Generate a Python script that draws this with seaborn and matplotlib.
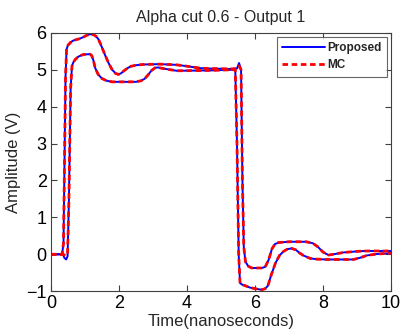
import matplotlib
matplotlib.use("Agg")
import matplotlib.pyplot as plt
import seaborn as sns
from matplotlib.lines import Line2D

# ---- data ----
t_up = [0, 0.33, 0.37, 0.40, 0.43, 0.46, 0.50, 0.58, 0.66, 0.85, 0.95, 1.05, 1.15, 1.25,
        1.33, 1.40, 1.48, 1.59, 1.70, 1.80, 1.90, 1.98, 2.06, 2.15, 2.25, 2.35, 2.5, 2.7,
        3.2, 3.7, 3.95, 4.1, 4.4, 4.68, 5.3, 5.47, 5.53, 5.59, 5.63, 5.67, 5.72, 5.8, 5.9,
        6.2, 6.3, 6.4, 6.5, 6.59, 6.7, 7.0, 7.5, 7.7, 7.85, 8.0, 8.16, 8.3, 8.6, 9.0, 9.2, 10]
prop_up = [0, 0, 0.3, 2.5, 4.8, 5.55, 5.66, 5.74, 5.79, 5.84, 5.88, 5.93, 5.96, 5.95,
           5.9, 5.82, 5.65, 5.4, 5.17, 5.0, 4.9, 4.87, 4.9, 4.97, 5.04, 5.09, 5.12, 5.14,
           5.15, 5.13, 5.1, 5.08, 5.04, 5.03, 5.02, 5.03, 5.18, 5.0, 2.0, 0.2, -0.2, -0.32, -0.37,
           -0.37, -0.34, -0.15, 0.15, 0.28, 0.32, 0.34, 0.34, 0.3, 0.2, 0.06, -0.02, 0.0, 0.05, 0.08, 0.09, 0.09]
mc_up = [0, 0, 0.3, 2.5, 4.8, 5.55, 5.66, 5.74, 5.79, 5.84, 5.88, 5.93, 5.95, 5.95,
         5.9, 5.82, 5.65, 5.4, 5.17, 5.0, 4.9, 4.87, 4.9, 4.97, 5.04, 5.09, 5.12, 5.14,
         5.15, 5.13, 5.1, 5.08, 5.04, 5.03, 5.02, 5.03, 5.1, 5.0, 2.0, 0.2, -0.2, -0.32, -0.37,
         -0.37, -0.34, -0.15, 0.15, 0.28, 0.32, 0.34, 0.34, 0.3, 0.2, 0.06, -0.02, 0.0, 0.05, 0.08, 0.09, 0.09]

t_lo = [0, 0.35, 0.40, 0.45, 0.49, 0.53, 0.58, 0.62, 0.66, 0.72, 0.8, 0.95, 1.15, 1.2, 1.25,
        1.3, 1.39, 1.5, 1.64, 1.8, 2.5, 2.65, 2.75, 2.85, 2.95, 3.06, 3.15, 3.3, 3.5, 3.7,
        4.7, 5.42, 5.47, 5.52, 5.56, 5.62, 5.71, 5.85, 6.0, 6.2, 6.3, 6.38, 6.48, 6.6, 6.72,
        6.84, 6.95, 7.08, 7.2, 7.32, 7.42, 7.62, 7.8, 8.1, 8.9, 9.1, 9.29, 9.6, 10]
prop_lo = [0, 0, -0.1, -0.14, -0.05, 1.5, 4.5, 5.1, 5.2, 5.28, 5.35, 5.41, 5.42, 5.38, 5.25,
           5.05, 4.87, 4.76, 4.7, 4.67, 4.67, 4.7, 4.75, 4.85, 4.97, 5.05, 5.06, 5.03, 5.0, 4.97,
           4.98, 5.0, 3.0, 0.0, -0.78, -0.82, -0.85, -0.9, -0.93, -0.96, -0.93, -0.85, -0.55, -0.24, -0.03,
           0.08, 0.14, 0.16, 0.12, 0.03, -0.03, -0.11, -0.13, -0.14, -0.14, -0.09, -0.03, 0.01, 0.03]
mc_lo = [0, 0, -0.02, -0.04, 0.0, 1.5, 4.5, 5.1, 5.2, 5.28, 5.35, 5.41, 5.42, 5.38, 5.25,
         5.05, 4.87, 4.76, 4.7, 4.67, 4.67, 4.7, 4.75, 4.85, 4.97, 5.05, 5.06, 5.03, 5.0, 4.97,
         4.98, 5.0, 3.0, 0.0, -0.78, -0.82, -0.85, -0.9, -0.93, -0.96, -0.93, -0.85, -0.55, -0.24, -0.03,
         0.08, 0.14, 0.16, 0.12, 0.03, -0.03, -0.11, -0.13, -0.14, -0.14, -0.09, -0.03, 0.01, 0.03]

title = "Alpha cut 0.6 - Output 1"
xlabel = "Time(nanoseconds)"
ylabel = "Amplitude (V)"
xticks = [0, 2, 4, 6, 8, 10]
yticks = [-1, 0, 1, 2, 3, 4, 5, 6]
legend_labels = ["Proposed", "MC"]

sns.set_style("white")
plt.rcParams['font.family'] = ['Liberation Sans', 'DejaVu Sans']

fig = plt.figure(figsize=(4.04, 3.34), dpi=100)
ax = fig.add_axes([0.126, 0.128, 0.842, 0.774])

blue = "#0000FF"
red = "#FF0000"
dash = (0, (2.0, 1.3))

for tt, vv in [(t_up, prop_up), (t_lo, prop_lo)]:
    sns.lineplot(x=tt, y=vv, ax=ax, color=blue, linewidth=1.4, sort=False,
                 estimator=None, legend=False)
for tt, vv in [(t_up, mc_up), (t_lo, mc_lo)]:
    sns.lineplot(x=tt, y=vv, ax=ax, color=red, linewidth=2.0, sort=False,
                 estimator=None, legend=False)
for ln in ax.lines[2:]:
    ln.set_linestyle(dash)
for ln in ax.lines:
    ln.set_solid_joinstyle("round")
    ln.set_dash_joinstyle("round")

ax.set_xlim(0, 10)
ax.set_ylim(-1, 6)
ax.set_xticks(xticks)
ax.set_yticks(yticks)
ax.tick_params(direction="in", length=4, width=0.8, colors="#404040",
               labelcolor="black", labelsize=13, top=True, right=True,
               bottom=True, left=True, pad=3)
for s in ax.spines.values():
    s.set_color("#404040")
    s.set_linewidth(0.8)
    s.set_visible(True)

ax.set_title(title, fontsize=11.5, pad=8)
ax.set_xlabel(xlabel, fontsize=12, labelpad=1)
ax.set_ylabel(ylabel, fontsize=12, labelpad=4)

handles = [Line2D([], [], color=blue, linewidth=1.4),
           Line2D([], [], color=red, linewidth=2.0, linestyle=dash)]
leg = ax.legend(handles, legend_labels, loc="upper right",
                prop={"weight": "bold", "size": 8.5}, frameon=True, fancybox=False,
                handlelength=3.6, handletextpad=0.2, borderpad=0.45,
                labelspacing=0.45, borderaxespad=0.35)
leg.get_frame().set_edgecolor("#404040")
leg.get_frame().set_linewidth(0.8)

fig.savefig("out.png", dpi=100, facecolor="white")
